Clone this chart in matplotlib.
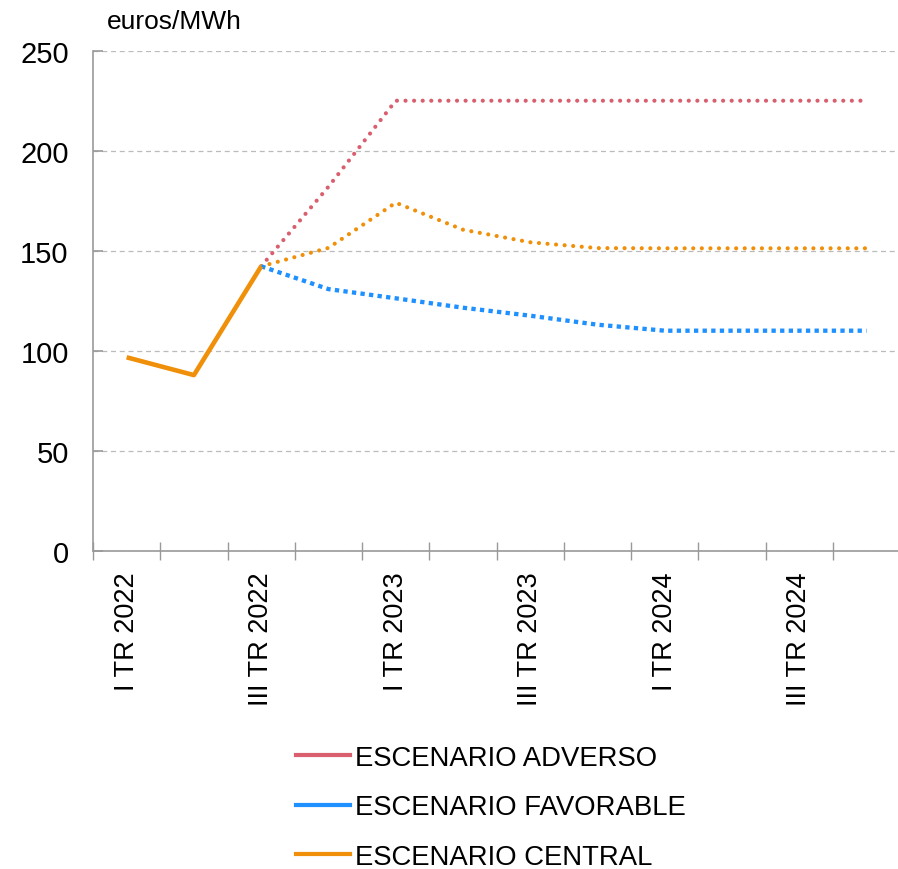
import numpy as np
import matplotlib
matplotlib.use("Agg")
import matplotlib.pyplot as plt
from matplotlib.lines import Line2D

plt.rcParams['font.family'] = ['Liberation Sans', 'DejaVu Sans']

quarters = ["I TR 2022", "II TR 2022", "III TR 2022", "IV TR 2022",
            "I TR 2023", "II TR 2023", "III TR 2023", "IV TR 2023",
            "I TR 2024", "II TR 2024", "III TR 2024", "IV TR 2024"]
shown_labels = ["I TR 2022", "III TR 2022", "I TR 2023", "III TR 2023",
                "I TR 2024", "III TR 2024"]

nan = np.nan
historico = [96.7, 87.8, 142.2, nan, nan, nan, nan, nan, nan, nan, nan, nan]
adverso = [nan, nan, 142.2, 182.0, 225.0, 225.0, 225.0, 225.0, 225.0, 225.0, 225.0, 225.0]
favorable = [nan, nan, 142.2, 130.8, 126.2, 121.5, 117.5, 113.0, 110.0, 110.0, 110.0, 110.0]
central = [nan, nan, 142.2, 151.4, 174.0, 160.5, 154.2, 151.3, 151.2, 151.2, 151.2, 151.2]

series_names = ["ESCENARIO ADVERSO", "ESCENARIO FAVORABLE", "ESCENARIO CENTRAL"]
c_red = "#D95F6E"
c_blue = "#1E90FF"
c_orange = "#F0900A"

W, H = 898, 870
fig = plt.figure(figsize=(W / 100, H / 100), dpi=100)
left, right = 93 / W, 900.3 / W
bottom, top = (H - 551.7) / H, (H - 51.7) / H
ax = fig.add_axes([left, bottom, right - left, top - bottom])

x = np.arange(len(quarters))

ax.plot(x, adverso, color=c_red, lw=3.0, linestyle=(0, (0.01, 2.05)),
        dash_capstyle='round', zorder=3)
ax.plot(x, central, color=c_orange, lw=3.0, linestyle=(0, (0.01, 2.05)),
        dash_capstyle='round', zorder=3)
ax.plot(x, favorable, color=c_blue, lw=3.1, linestyle=(0, (1, 1)),
        dash_capstyle='butt', zorder=3)
ax.plot(x, historico, color=c_orange, lw=3.3, solid_capstyle='butt', zorder=4)

ax.set_xlim(-0.5, len(quarters) - 0.5)
ax.set_ylim(0, 250)
ax.set_yticks([0, 50, 100, 150, 200, 250])
ax.grid(axis='y', color='#BBBBBB', linestyle=(0, (4, 3)), linewidth=0.9)
ax.set_axisbelow(True)

for s in ['top', 'right']:
    ax.spines[s].set_visible(False)
for s in ['left', 'bottom']:
    ax.spines[s].set_color('#999999')
    ax.spines[s].set_linewidth(1.2)

ax.tick_params(axis='y', direction='in', length=7, width=1.2, color='#999999',
               labelsize=21, pad=17.5)
# category boundaries as minor ticks
ax.set_xticks(np.arange(len(quarters)) - 0.5, minor=True)
major_pos = [quarters.index(l) for l in shown_labels]
ax.set_xticks(major_pos)
ax.set_xticklabels(shown_labels, rotation=90, ha='center', va='top')
ax.tick_params(axis='x', which='major', length=0, labelsize=19.5, pad=15)
ax.tick_params(axis='x', which='minor', direction='inout', length=13,
               width=1.0, color='#999999')

fig.text(107 / W, (H - 22) / H, "euros/MWh", fontsize=19, ha='left', va='center')

handles = [Line2D([], [], color=c_red, lw=3),
           Line2D([], [], color=c_blue, lw=3),
           Line2D([], [], color=c_orange, lw=3)]
fig.legend(handles, series_names, loc='upper left',
           bbox_to_anchor=(296 / W, (H - 746) / H), frameon=False,
           fontsize=19.8, handlelength=1.95, handletextpad=0.18,
           labelspacing=0.85, borderpad=0, borderaxespad=0)

fig.savefig("out.png", dpi=100)
